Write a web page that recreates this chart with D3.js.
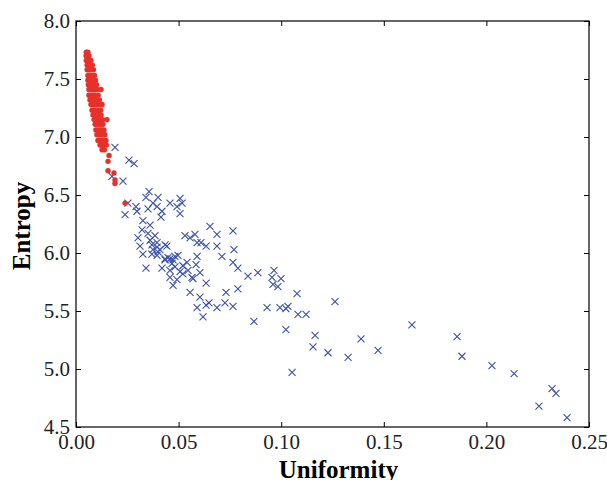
<!DOCTYPE html>
<html>
<head>
<meta charset="utf-8">
<script src="https://cdn.jsdelivr.net/npm/d3@7"></script>
<style>
  body { margin: 0; background: #fff; }
  svg { display: block; font-family: "Liberation Serif", serif; }
</style>
</head>
<body>
<svg id="viz"></svg>
<script>
// uniformity / entropy pairs
const blueGroup = [
  [0.0190, 6.91], [0.0258, 6.80], [0.0283, 6.77], [0.0175, 6.66], [0.0229, 6.62],
  [0.0356, 6.53], [0.0341, 6.48], [0.0400, 6.48], [0.0253, 6.43], [0.0292, 6.40],
  [0.0297, 6.36], [0.0351, 6.38], [0.0375, 6.43], [0.0395, 6.40], [0.0419, 6.36],
  [0.0414, 6.31], [0.0458, 6.43], [0.0507, 6.47], [0.0517, 6.43], [0.0492, 6.40],
  [0.0507, 6.34], [0.0239, 6.33], [0.0326, 6.28], [0.0361, 6.24], [0.0322, 6.20],
  [0.0302, 6.13], [0.0351, 6.17], [0.0385, 6.15], [0.0395, 6.09], [0.0370, 6.07],
  [0.0375, 6.03], [0.0434, 6.07], [0.0531, 6.15], [0.0556, 6.13], [0.0580, 6.16],
  [0.0590, 6.09], [0.0326, 5.99], [0.0370, 5.99], [0.0395, 5.98], [0.0448, 5.96],
  [0.0482, 5.97], [0.0497, 5.98], [0.0434, 5.95], [0.0458, 5.95], [0.0419, 5.87],
  [0.0341, 5.87], [0.0458, 5.85], [0.0482, 5.88], [0.0507, 5.84], [0.0458, 5.79],
  [0.0492, 5.77], [0.0473, 5.72], [0.0521, 5.82], [0.0565, 5.79], [0.0604, 5.83],
  [0.0570, 5.78], [0.0634, 5.74], [0.0556, 5.66], [0.0604, 5.62], [0.0590, 5.53],
  [0.0634, 5.55], [0.0648, 5.57], [0.0619, 5.45], [0.0687, 5.53], [0.0726, 5.57],
  [0.0765, 5.54], [0.0653, 6.23], [0.0687, 6.16], [0.0765, 6.19], [0.0609, 6.09],
  [0.0634, 6.06], [0.0687, 6.06], [0.0770, 6.03], [0.0711, 5.97], [0.0765, 5.92],
  [0.0789, 5.87], [0.0541, 5.92], [0.0590, 5.97], [0.0838, 5.80], [0.0886, 5.83],
  [0.0965, 5.85], [0.0955, 5.79], [0.0999, 5.78], [0.0960, 5.73], [0.0984, 5.71],
  [0.1077, 5.65], [0.0789, 5.69], [0.0731, 5.66], [0.0931, 5.53], [0.0994, 5.53],
  [0.1023, 5.52], [0.1033, 5.54], [0.1082, 5.47], [0.1121, 5.47], [0.0867, 5.41],
  [0.1023, 5.34], [0.1053, 4.97], [0.1155, 5.19], [0.1165, 5.29], [0.1228, 5.14],
  [0.1262, 5.58], [0.1326, 5.10], [0.1389, 5.26], [0.1472, 5.16], [0.1637, 5.38],
  [0.1857, 5.28], [0.1881, 5.11], [0.2027, 5.03], [0.2135, 4.96], [0.2320, 4.83],
  [0.2339, 4.79], [0.2256, 4.68], [0.2393, 4.58], [0.0395, 6.05], [0.0443, 6.06],
  [0.0400, 6.01], [0.0434, 5.94], [0.0473, 5.94], [0.0409, 6.03], [0.0361, 6.11],
  [0.0468, 5.91], [0.0521, 5.89], [0.0546, 5.85], [0.0312, 6.06], [0.0585, 5.90]
];

const redGroup = [
  [0.0050, 7.73], [0.0058, 7.73],
  [0.0049, 7.70], [0.0056, 7.70], [0.0063, 7.70],
  [0.0050, 7.66], [0.0058, 7.66], [0.0066, 7.66], [0.0073, 7.66],
  [0.0054, 7.62], [0.0062, 7.62], [0.0070, 7.62], [0.0080, 7.62],
  [0.0054, 7.58], [0.0063, 7.58], [0.0072, 7.58], [0.0085, 7.58],
  [0.0058, 7.53], [0.0066, 7.53], [0.0076, 7.53], [0.0090, 7.53],
  [0.0058, 7.49], [0.0068, 7.49], [0.0078, 7.49], [0.0088, 7.49], [0.0095, 7.49],
  [0.0060, 7.45], [0.0070, 7.45], [0.0080, 7.45], [0.0090, 7.45], [0.0100, 7.45],
  [0.0063, 7.41], [0.0072, 7.41], [0.0082, 7.41], [0.0094, 7.41], [0.0104, 7.41], [0.0122, 7.41],
  [0.0063, 7.36], [0.0075, 7.36], [0.0085, 7.36], [0.0095, 7.36], [0.0108, 7.36],
  [0.0068, 7.32], [0.0078, 7.32], [0.0088, 7.32], [0.0100, 7.32], [0.0114, 7.32],
  [0.0073, 7.28], [0.0083, 7.28], [0.0093, 7.28], [0.0105, 7.28], [0.0117, 7.28], [0.0127, 7.28],
  [0.0078, 7.23], [0.0088, 7.23], [0.0098, 7.23], [0.0110, 7.23], [0.0120, 7.23],
  [0.0083, 7.19], [0.0092, 7.19], [0.0102, 7.19], [0.0112, 7.19], [0.0122, 7.19],
  [0.0088, 7.15], [0.0097, 7.15], [0.0107, 7.15], [0.0118, 7.15], [0.0131, 7.15], [0.0151, 7.15],
  [0.0093, 7.11], [0.0102, 7.11], [0.0112, 7.11], [0.0124, 7.11], [0.0131, 7.11],
  [0.0097, 7.06], [0.0107, 7.06], [0.0117, 7.06], [0.0127, 7.06], [0.0136, 7.06],
  [0.0102, 7.02], [0.0112, 7.02], [0.0122, 7.02], [0.0133, 7.02], [0.0141, 7.02],
  [0.0107, 6.97], [0.0117, 6.97], [0.0127, 6.97], [0.0138, 6.97], [0.0146, 6.97],
  [0.0117, 6.93], [0.0127, 6.93], [0.0138, 6.93], [0.0148, 6.93],
  [0.0127, 6.89], [0.0138, 6.89],
  [0.0161, 6.84], [0.0156, 6.79], [0.0156, 6.71], [0.0185, 6.69],
  [0.0190, 6.63], [0.0190, 6.60], [0.0239, 6.43]
];

const xTicks = [0, 0.05, 0.10, 0.15, 0.20, 0.25];
const yTicks = [4.5, 5.0, 5.5, 6.0, 6.5, 7.0, 7.5, 8.0];

const W = 607, H = 480;
const margin = { top: 21, right: 18, bottom: 53, left: 76 };
const width = W - margin.left - margin.right;
const height = H - margin.top - margin.bottom;

const svgRoot = d3.select('#viz').attr('width', W).attr('height', H);
const svg = svgRoot.append('g').attr('transform', `translate(${margin.left},${margin.top})`);

const x = d3.scaleLinear().domain([0, 0.25]).range([0, width]);
const y = d3.scaleLinear().domain([4.5, 8.0]).range([height, 0]);

// axes, ticks inward on every side
const axes = [
  svg.append('g').attr('transform', `translate(0,${height})`)
    .call(d3.axisBottom(x).tickValues(xTicks).tickFormat(d3.format('.2f')).tickSize(-5).tickPadding(7)),
  svg.append('g')
    .call(d3.axisLeft(y).tickValues(yTicks).tickFormat(d3.format('.1f')).tickSize(-5).tickPadding(6)),
  svg.append('g')
    .call(d3.axisTop(x).tickValues(xTicks).tickFormat('').tickSize(-5)),
  svg.append('g').attr('transform', `translate(${width},0)`)
    .call(d3.axisRight(y).tickValues(yTicks).tickFormat('').tickSize(-5))
];
axes.forEach(g => {
  g.select('.domain').remove();
  g.selectAll('.tick line').attr('stroke', '#000');
  g.selectAll('.tick text')
    .attr('fill', '#222')
    .style('font-family', '"Liberation Serif", serif')
    .style('font-size', '21px');
});

// blue crosses
svg.append('g')
  .selectAll('path')
  .data(blueGroup)
  .join('path')
  .attr('transform', d => `translate(${x(d[0])},${y(d[1])})`)
  .attr('d', 'M-3.5,-3.5L3.5,3.5M-3.5,3.5L3.5,-3.5')
  .attr('stroke', '#3a52a8')
  .attr('stroke-width', 1.1)
  .attr('fill', 'none');

// red dots
svg.append('g')
  .selectAll('circle')
  .data(redGroup)
  .join('circle')
  .attr('cx', d => x(d[0]))
  .attr('cy', d => y(d[1]))
  .attr('r', 2.7)
  .attr('fill', '#e8302a');

// frame
svg.append('rect')
  .attr('width', width).attr('height', height)
  .attr('fill', 'none').attr('stroke', '#000').attr('stroke-width', 1.2);

svg.append('text')
  .attr('x', width / 2 + 6).attr('y', height + 51)
  .attr('text-anchor', 'middle')
  .style('font-size', '25px').style('font-weight', 'bold')
  .text('Uniformity');

svg.append('text')
  .attr('transform', `translate(${-46},${height / 2 + 2}) rotate(-90)`)
  .attr('text-anchor', 'middle')
  .style('font-size', '25px').style('font-weight', 'bold')
  .text('Entropy');
</script>
</body>
</html>
